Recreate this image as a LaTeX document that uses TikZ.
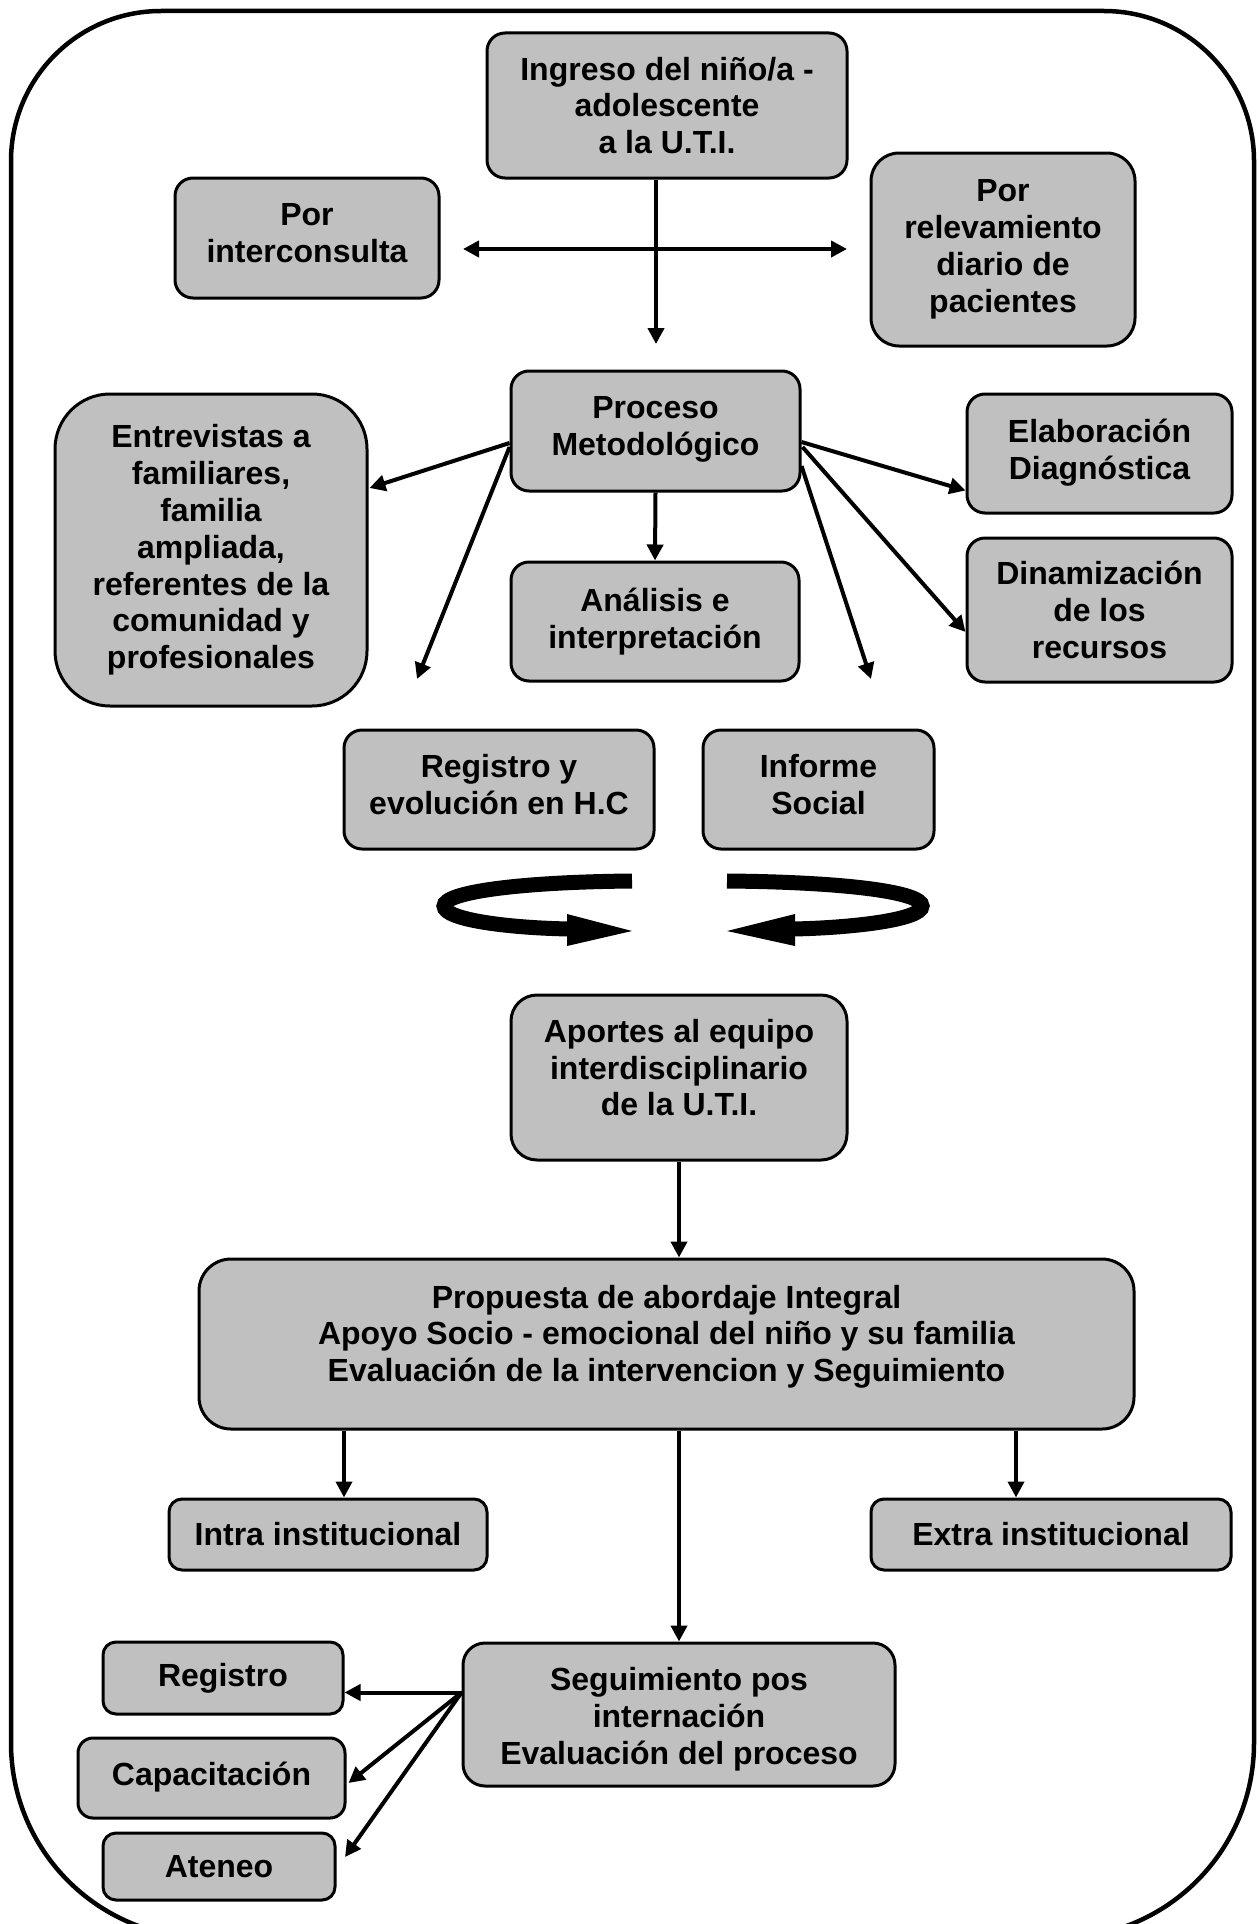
\documentclass[tikz,border=0pt]{standalone}
\usepackage{fontspec}
\setmainfont{Liberation Sans}[BoldFont={Liberation Sans Bold}]
\usetikzlibrary{arrows.meta,calc}
\definecolor{boxgray}{HTML}{C0C0C0}
\begin{document}
\begin{tikzpicture}[x=1pt,y=-1pt,
  box/.style={draw, line width=3pt, fill=boxgray, rounded corners=18pt,
    align=center, inner sep=0pt,
    font=\bfseries\fontsize{32}{36.8}\selectfont},
  arr/.style={line width=4pt, -{Triangle[length=16pt,width=16pt]}},
  darr/.style={line width=4pt, {Triangle[length=16pt,width=16pt]}-{Triangle[length=16pt,width=16pt]}},
  frame/.style={line width=4.5pt},
  bigarr/.style={line width=15pt},
]
\useasboundingbox (0,0) rectangle (1258,1924);
% outer frame
\draw[frame] (11,1000) [rounded corners=150pt] -- (11,11) -- (1254,11) -- (1254,1000)
  [rounded corners=195pt] -- (1254,1938) -- (11,1938) -- cycle;

% nodes
\node[box, minimum width=360pt, minimum height=145pt] (ingreso) at (667,105.5)
  {Ingreso del niño/a -\\adolescente\\a la U.T.I.};
\node[box, minimum width=264pt, minimum height=120pt] (intercon) at (307,238)
  {Por\\interconsulta\\[-26.8pt]};
\node[box, minimum width=264pt, minimum height=193pt, rounded corners=28pt] (relev) at (1003,249.5)
  {Por\\relevamiento\\diario de\\pacientes};
\node[box, minimum width=289pt, minimum height=120pt] (proceso) at (655.5,431)
  {Proceso\\Metodológico\\[-26.8pt]};
\node[box, minimum width=312pt, minimum height=312pt, rounded corners=55pt] (entrev) at (211,550)
  {Entrevistas a\\familiares,\\familia\\ampliada,\\referentes de la\\comunidad y\\profesionales};
\node[box, minimum width=265pt, minimum height=119pt] (elab) at (1099.5,453.5)
  {Elaboración\\Diagnóstica\\[-28.8pt]};
\node[box, minimum width=265pt, minimum height=144pt] (dinam) at (1099.5,610)
  {Dinamización\\de los\\recursos};
\node[box, minimum width=288pt, minimum height=119pt] (analisis) at (655,621.5)
  {Análisis e\\interpretación\\[-30.8pt]};
\node[box, minimum width=310pt, minimum height=119pt] (reghc) at (499,789.5)
  {Registro y\\evolución en H.C\\[-26.8pt]};
\node[box, minimum width=231pt, minimum height=119pt] (informe) at (818.5,789.5)
  {Informe\\Social\\[-26.8pt]};
\node[box, minimum width=336pt, minimum height=165pt, rounded corners=26pt] (aportes) at (679,1077.5)
  {Aportes al equipo\\interdisciplinario\\de la U.T.I.\\[-16.8pt]};
\node[box, minimum width=935pt, minimum height=170pt, rounded corners=32pt] (propuesta) at (666.5,1344)
  {Propuesta de abordaje Integral\\Apoyo Socio - emocional del niño y su familia\\Evaluación de la intervencion y Seguimiento\\[-15.4pt]};
\node[box, minimum width=318pt, minimum height=71pt, rounded corners=13pt] (intra) at (328,1534.5)
  {Intra institucional};
\node[box, minimum width=360pt, minimum height=71pt, rounded corners=13pt] (extra) at (1051,1534.5)
  {Extra institucional};
\node[box, minimum width=432pt, minimum height=143pt, rounded corners=22pt] (seguim) at (679,1714.5)
  {\rule{0pt}{33pt}Seguimiento pos\\internación\\Evaluación del proceso};
\node[box, minimum width=240pt, minimum height=72pt, rounded corners=13pt] (registro) at (223,1678)
  {Registro};
\node[box, minimum width=267pt, minimum height=80pt, rounded corners=15pt] (capac) at (211.5,1778)
  {Capacitación\\[-29pt]};
\node[box, minimum width=232pt, minimum height=67pt, rounded corners=13pt] (ateneo) at (219,1866.5)
  {Ateneo};

% free ends
\coordinate (ingresoend) at (656,344);
\coordinate (leftend) at (463,249);
\coordinate (rightend) at (847,249);
\coordinate (dlend) at (417,679);
\coordinate (drend) at (871,679);
\coordinate (ateneoend) at (345,1857);

% connectors
\draw[arr] (ingreso.south -| ingresoend) -- (ingresoend);
\draw[darr] (leftend) -- (rightend);

\draw[arr] ($(proceso.west)+(0,12)$) -- ($(entrev.east)+(1,-62)$);
\draw[arr] ($(proceso.west)+(0,16)$) -- (dlend);
\draw[arr] ($(proceso.east)+(0,11)$) -- ($(elab.west)+(0,37)$);
\draw[arr] ($(proceso.east)+(1,16)$) -- ($(dinam.west)+(0,22)$);
\draw[arr] ($(proceso.east)+(0,35)$) -- (drend);
\draw[arr] (proceso.south) -- (analisis.north);

\draw[arr] (aportes.south) -- (propuesta.north -| aportes.south);
\draw[arr] (propuesta.south -| 344,0) -- (intra.north -| 344,0);
\draw[arr] (propuesta.south -| 1016,0) -- (extra.north -| 1016,0);
\draw[arr] (propuesta.south -| seguim.north) -- (seguim.north);

\coordinate (sfrom) at ($(seguim.west)+(0,-22)$);
\draw[arr] (sfrom) -- (registro.east |- sfrom);
\draw[arr] (sfrom) -- ($(capac.east)+(2,5)$);
\draw[arr] (sfrom) -- (ateneoend);

% circular arrows
\draw[bigarr] (632,881) .. controls (520,882) and (444,892) .. (444,906)
  .. controls (444,920) and (510,928) .. (570,929);
\fill (567,914) -- (632,931) -- (567,946) -- cycle;
\draw[bigarr] (727,881) .. controls (845,882) and (922,892) .. (922,906)
  .. controls (922,920) and (850,928) .. (792,929);
\fill (795,914) -- (727,931) -- (795,946) -- cycle;
\end{tikzpicture}
\end{document}
